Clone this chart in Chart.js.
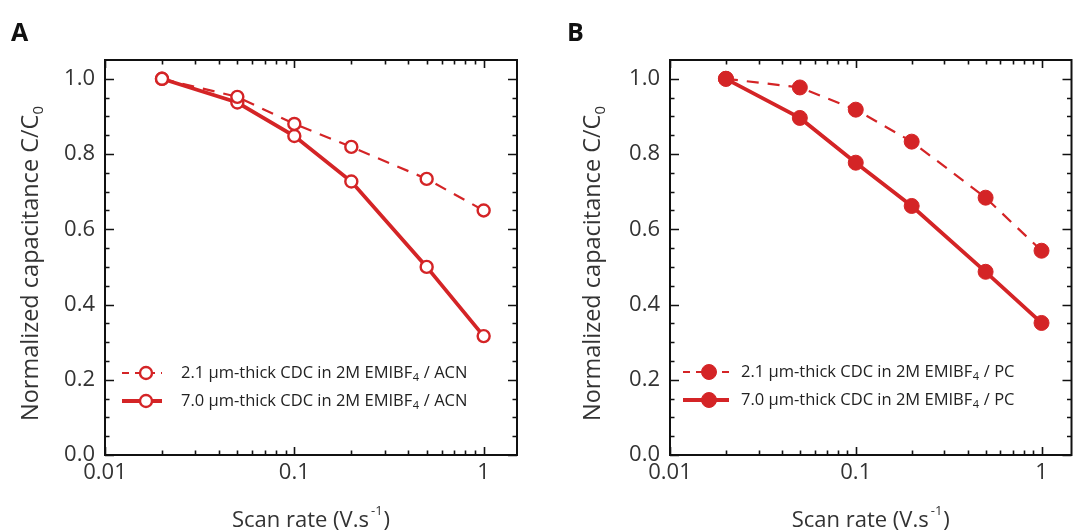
<!DOCTYPE html>
<html>
<head>
<meta charset="utf-8">
<script src="https://cdn.jsdelivr.net/npm/chart.js@4.4.1/dist/chart.umd.min.js"></script>
<style>
  html, body { margin: 0; padding: 0; background: #ffffff; }
  #wrap { position: relative; width: 1080px; height: 530px; overflow: hidden; }
  canvas { position: absolute; top: 0; }
</style>
</head>
<body>
<div id="wrap">
  <canvas id="cA" width="540" height="530" style="left:0px"></canvas>
  <canvas id="cB" width="540" height="530" style="left:540px"></canvas>
</div>
<script>
// ---------------- data ----------------
const scanRates = [0.02, 0.05, 0.1, 0.2, 0.5, 1];
const acnThin  = [1.0, 0.952, 0.880, 0.819, 0.734, 0.650];
const acnThick = [1.0, 0.937, 0.848, 0.727, 0.500, 0.316];
const pcThin   = [1.0, 0.977, 0.918, 0.833, 0.684, 0.543];
const pcThick  = [1.0, 0.896, 0.777, 0.662, 0.487, 0.351];

const xMajorTicks = [0.01, 0.1, 1];
const xMinorTicks = [0.02, 0.03, 0.04, 0.05, 0.06, 0.07, 0.08, 0.09,
                     0.2, 0.3, 0.4, 0.5, 0.6, 0.7, 0.8, 0.9];
const yMajorTicks = [0.0, 0.2, 0.4, 0.6, 0.8, 1.0];
const yMinorTicks = [0.05, 0.1, 0.15, 0.25, 0.3, 0.35, 0.45, 0.5, 0.55,
                     0.65, 0.7, 0.75, 0.85, 0.9, 0.95];

const legendA = [
  ["2.1 \u00b5m-thick CDC in 2M EMIBF", "4", " / ACN"],
  ["7.0 \u00b5m-thick CDC in 2M EMIBF", "4", " / ACN"]
];
const legendB = [
  ["2.1 \u00b5m-thick CDC in 2M EMIBF", "4", " / PC"],
  ["7.0 \u00b5m-thick CDC in 2M EMIBF", "4", " / PC"]
];
const yTitle = ["Normalized capacitance C/C", "0"];
const xTitle = ["Scan rate (V.s", "-1", ")"];

// ---------------- style ----------------
const RED = 'rgb(212,36,38)';
const FONT = '"Open Sans", "DejaVu Sans", sans-serif';
const TEXT = '#333333';

function pts(ys) { return scanRates.map((x, i) => ({ x: x, y: ys[i] })); }

function makeDatasets(thin, thick, filled, labels) {
  return [
    { label: labels[0].join(''), data: pts(thin), borderColor: RED, borderWidth: 2.2,
      borderDash: [12, 9], pointRadius: filled ? 7.5 : 6, pointBorderWidth: filled ? 1 : 2.4,
      pointBackgroundColor: filled ? RED : '#ffffff', pointBorderColor: RED,
      tension: 0, fill: false },
    { label: labels[1].join(''), data: pts(thick), borderColor: RED, borderWidth: 3.8,
      pointRadius: filled ? 7.5 : 6, pointBorderWidth: filled ? 1 : 2.4,
      pointBackgroundColor: filled ? RED : '#ffffff', pointBorderColor: RED,
      tension: 0, fill: false }
  ];
}

const framePlugin = {
  id: 'frame',
  afterDatasetsDraw(chart, args, opts) {
    const ctx = chart.ctx;
    const a = chart.chartArea;
    const xs = chart.scales.x, ys = chart.scales.y;
    ctx.save();
    ctx.strokeStyle = '#111111';
    ctx.lineWidth = 2;
    ctx.strokeRect(a.left, a.top, a.right - a.left, a.bottom - a.top);
    ctx.lineWidth = 1.6;
    ctx.beginPath();
    const tick = (vals, len, axis) => {
      vals.forEach(v => {
        if (axis === 'x') {
          const p = Math.round(xs.getPixelForValue(v)) + 0.5;
          ctx.moveTo(p, a.bottom); ctx.lineTo(p, a.bottom - len);
          ctx.moveTo(p, a.top); ctx.lineTo(p, a.top + len);
        } else {
          const p = Math.round(ys.getPixelForValue(v)) + 0.5;
          ctx.moveTo(a.left, p); ctx.lineTo(a.left + len, p);
          ctx.moveTo(a.right, p); ctx.lineTo(a.right - len, p);
        }
      });
    };
    tick(xMajorTicks, 8, 'x');
    tick(xMinorTicks, 4.5, 'x');
    tick(yMajorTicks, 9, 'y');
    tick(yMinorTicks, 4.5, 'y');
    ctx.stroke();

    // panel letter
    ctx.fillStyle = '#111111';
    ctx.font = 'bold 25px ' + FONT;
    ctx.textAlign = 'left';
    ctx.textBaseline = 'alphabetic';
    ctx.fillText(opts.letter, opts.letterX, 41);

    // y title (rotated)
    ctx.fillStyle = TEXT;
    ctx.font = '23.5px ' + FONT;
    const w1 = ctx.measureText(yTitle[0]).width;
    ctx.font = '15px ' + FONT;
    const w2 = ctx.measureText(yTitle[1]).width;
    const tw = w1 + w2;
    ctx.save();
    ctx.translate(opts.yTitleX, (a.top + a.bottom) / 2 + 6);
    ctx.rotate(-Math.PI / 2);
    ctx.textAlign = 'left';
    ctx.textBaseline = 'alphabetic';
    ctx.font = '23.5px ' + FONT;
    ctx.fillText(yTitle[0], -tw / 2, 0);
    ctx.font = '15px ' + FONT;
    ctx.fillText(yTitle[1], -tw / 2 + w1, 5);
    ctx.restore();

    // x title
    ctx.font = '22px ' + FONT;
    const xw1 = ctx.measureText(xTitle[0]).width;
    const xw3 = ctx.measureText(xTitle[2]).width;
    ctx.font = '13px ' + FONT;
    const xw2 = ctx.measureText(xTitle[1]).width + 3;
    const xtw = xw1 + xw2 + xw3;
    const cx = (a.left + a.right) / 2;
    let xx = cx - xtw / 2;
    const by = 527;
    ctx.textAlign = 'left';
    ctx.font = '22px ' + FONT;
    ctx.fillText(xTitle[0], xx, by);
    ctx.font = '13px ' + FONT;
    ctx.fillText(xTitle[1], xx + xw1 + 2, by - 12);
    ctx.font = '22px ' + FONT;
    ctx.fillText(xTitle[2], xx + xw1 + xw2, by);

    // legend
    const L = opts.legend;
    chart.data.datasets.forEach((ds, i) => {
      const yy = L.rows[i];
      ctx.save();
      ctx.strokeStyle = ds.borderColor;
      ctx.lineWidth = ds.borderWidth;
      ctx.setLineDash(ds.borderDash ? [7, 6] : []);
      ctx.beginPath();
      ctx.moveTo(L.x0, yy); ctx.lineTo(L.x1, yy);
      ctx.stroke();
      ctx.setLineDash([]);
      ctx.beginPath();
      ctx.arc(L.mx, yy, ds.pointRadius, 0, Math.PI * 2);
      ctx.fillStyle = ds.pointBackgroundColor;
      ctx.fill();
      ctx.lineWidth = ds.pointBorderWidth;
      ctx.strokeStyle = ds.pointBorderColor;
      ctx.stroke();
      ctx.restore();
      const parts = L.labels[i];
      ctx.fillStyle = '#222222';
      ctx.textBaseline = 'middle';
      ctx.textAlign = 'left';
      ctx.font = '16.5px ' + FONT;
      ctx.fillText(parts[0], L.tx, yy);
      const p1 = ctx.measureText(parts[0]).width;
      ctx.font = '11px ' + FONT;
      ctx.fillText(parts[1], L.tx + p1 + 0.5, yy + 5);
      const p2 = ctx.measureText(parts[1]).width;
      ctx.font = '16.5px ' + FONT;
      ctx.fillText(parts[2], L.tx + p1 + p2 + 1, yy);
    });
    ctx.restore();
  }
};

function makeChart(id, thin, thick, filled, cfg) {
  return new Chart(document.getElementById(id), {
    type: 'line',
    data: { datasets: makeDatasets(thin, thick, filled, cfg.legend.labels) },
    options: {
      responsive: false,
      animation: false,
      devicePixelRatio: 1,
      layout: { padding: { left: 0, right: cfg.padRight, top: 60, bottom: 0 } },
      plugins: {
        legend: { display: false },
        tooltip: { enabled: false },
        frame: cfg
      },
      scales: {
        x: {
          type: 'logarithmic',
          min: 0.01, max: cfg.xMax,
          grid: { display: false, drawTicks: false },
          border: { display: false },
          afterBuildTicks: (s) => { s.ticks = xMajorTicks.map(v => ({ value: v })); },
          afterFit: (s) => { s.height = 75; s.paddingLeft = 0; s.paddingRight = 0; },
          ticks: {
            color: TEXT, padding: 5, maxRotation: 0, autoSkip: false,
            font: { family: FONT, size: 22 },
            callback: (v) => String(v)
          }
        },
        y: {
          type: 'linear',
          min: 0, max: 1.05,
          grid: { display: false, drawTicks: false },
          border: { display: false },
          afterBuildTicks: (s) => { s.ticks = yMajorTicks.map(v => ({ value: v })); },
          afterFit: (s) => { s.width = cfg.yWidth; },
          ticks: {
            color: TEXT, padding: 10, autoSkip: false,
            font: { family: FONT, size: 22 },
            callback: (v) => Number(v).toFixed(1)
          }
        }
      }
    },
    plugins: [framePlugin]
  });
}

makeChart('cA', acnThin, acnThick, false, {
  letter: 'A', letterX: 11, yTitleX: 38, padRight: 23, yWidth: 105, xMax: 1.5,
  legend: { rows: [373, 401], x0: 122, x1: 162, mx: 146, tx: 181, labels: legendA }
});
makeChart('cB', pcThin, pcThick, true, {
  letter: 'B', letterX: 27, yTitleX: 60, padRight: 2, yWidth: 130, xMax: 1.45,
  legend: { rows: [372, 400], x0: 143, x1: 189, mx: 169, tx: 201, labels: legendB }
});
</script>
</body>
</html>
